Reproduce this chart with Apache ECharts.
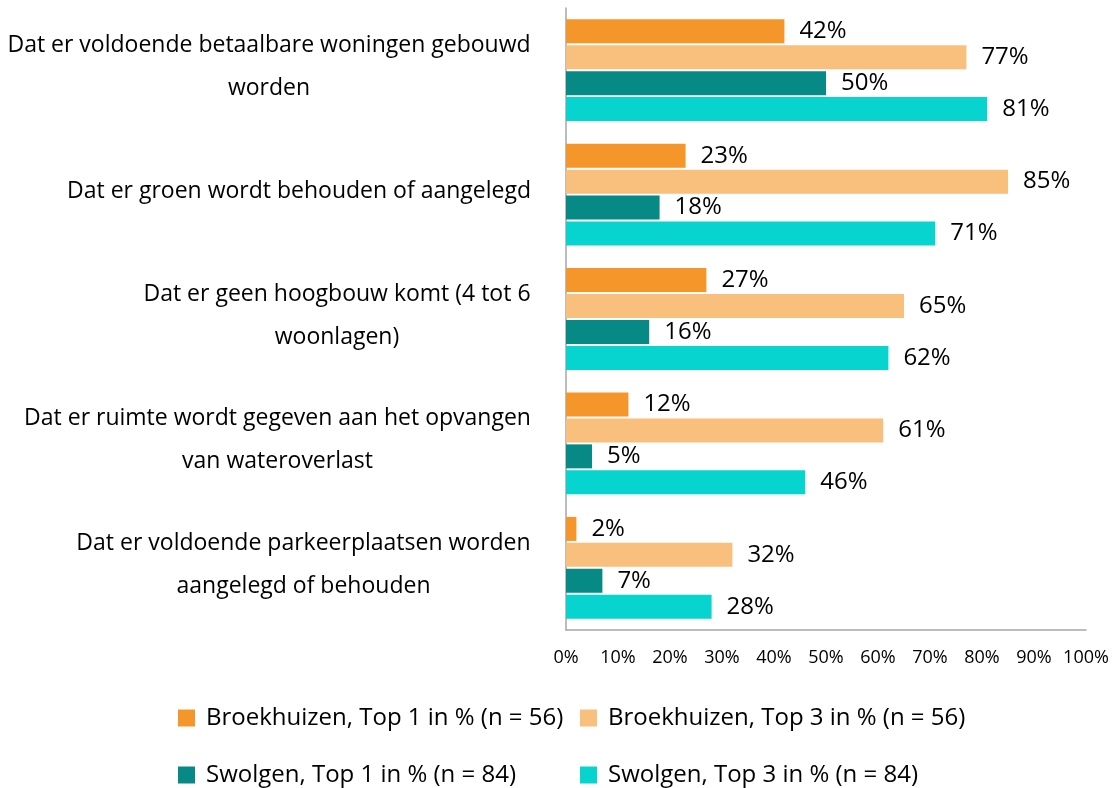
<!DOCTYPE html>
<html>
<head>
<meta charset="utf-8">
<script src="https://cdn.jsdelivr.net/npm/echarts@6/dist/echarts.min.js"></script>
<style>
    html,body{margin:0;padding:0;background:#fff;}
    #chart{width:1115px;height:788px;}
</style>
</head>
<body>
<div id="chart"></div>
<script>
    // categories top to bottom
    var categories = [
        'Dat er voldoende betaalbare woningen gebouwd\nworden',
        'Dat er groen wordt behouden of aangelegd',
        'Dat er geen hoogbouw komt (4 tot 6\nwoonlagen)',
        'Dat er ruimte wordt gegeven aan het opvangen\nvan wateroverlast',
        'Dat er voldoende parkeerplaatsen worden\naangelegd of behouden'
    ];
    var seriesNames = [
        'Broekhuizen, Top 1 in % (n = 56)',
        'Broekhuizen, Top 3 in % (n = 56)',
        'Swolgen, Top 1 in % (n = 84)',
        'Swolgen, Top 3 in % (n = 84)'
    ];
    var broekTop1 = [42, 23, 27, 12, 2];
    var broekTop3 = [77, 85, 65, 61, 32];
    var swolTop1 = [50, 18, 16, 5, 7];
    var swolTop3 = [81, 71, 62, 46, 28];
    var colors = ['#F5962A', '#F8BF7D', '#078A85', '#07D4CF'];

    var font = 'Open Sans';
    var catSize = 23;
    var values = [broekTop1, broekTop3, swolTop1, swolTop3];

    // lines of each label are centred on each other, the block sits right-aligned
    var ctx = document.createElement('canvas').getContext('2d');
    ctx.font = catSize + 'px "' + font + '"';
    var catRich = {};
    categories.forEach(function (c, i) {
        var w = 0;
        c.split('\n').forEach(function (l) { w = Math.max(w, ctx.measureText(l).width); });
        catRich['c' + i] = {width: Math.ceil(w) + 2, align: 'center', fontFamily: font, fontSize: catSize, color: '#000', lineHeight: 43};
    });

    var series = values.map(function (d, i) {
        return {
            name: seriesNames[i],
            type: 'bar',
            data: d,
            barWidth: 24,
            barGap: '8%',
            itemStyle: {color: colors[i]},
            label: {
                show: true,
                position: 'right',
                distance: 15,
                formatter: '{c}%',
                color: '#000',
                fontFamily: font,
                fontSize: 24
            }
        };
    });

    // one legend per item, placed in two columns
    var legendPos = [[178, 706], [580, 706], [178, 763], [580, 763]];
    var legends = seriesNames.map(function (n, i) {
        return {
            data: [n],
            left: legendPos[i][0],
            top: legendPos[i][1],
            padding: 0,
            icon: 'rect',
            itemWidth: 17,
            itemHeight: 17,
            itemGap: 0,
            textStyle: {fontFamily: font, fontSize: 24, color: '#000', padding: [0, 0, 0, 6]}
        };
    });

    var chart = echarts.init(document.getElementById('chart'));
    chart.setOption({
        animation: false,
        legend: legends,
        grid: {left: 566, right: 29, top: 8, bottom: 158, containLabel: false},
        xAxis: {
            type: 'value',
            min: 0,
            max: 100,
            interval: 10,
            axisLine: {show: true, lineStyle: {color: '#A6A6A6', width: 1.5}},
            axisTick: {show: false},
            splitLine: {show: false},
            axisLabel: {formatter: '{value}%', fontFamily: font, fontSize: 18, color: '#000', margin: 19}
        },
        yAxis: {
            type: 'category',
            inverse: true,
            data: categories,
            axisLine: {show: true, lineStyle: {color: '#A6A6A6', width: 1.5}},
            axisTick: {show: false},
            axisLabel: {
                margin: 34,
                align: 'right',
                padding: [0, 0, 6, 0],
                formatter: function (v, i) {
                    return v.split('\n').map(function (l) { return '{c' + i + '|' + l + '}'; }).join('\n');
                },
                rich: catRich
            }
        },
        series: series
    });
</script>
</body>
</html>
